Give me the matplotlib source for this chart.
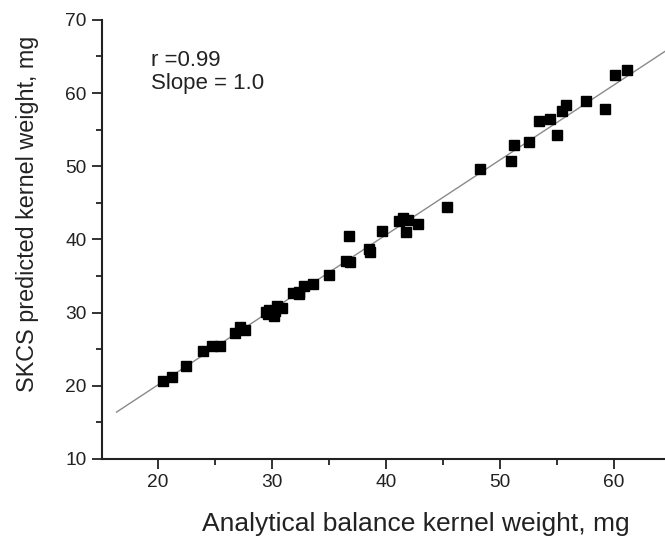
import matplotlib
matplotlib.use("Agg")
import matplotlib.pyplot as plt
from matplotlib.ticker import MultipleLocator

plt.rcParams['font.family'] = ['Liberation Sans', 'DejaVu Sans']

# analytical balance weight (x) vs SKCS predicted weight (y), mg
balance_mg = [20.5, 21.25, 22.5, 24.0, 24.8, 25.5, 26.8, 27.25, 27.7,
              29.5, 29.8, 30.0, 30.2, 30.5, 30.9, 29.7, 30.3,
              31.9, 32.4, 32.4, 32.8, 33.6, 35.0, 36.55, 36.9, 36.8,
              38.5, 38.65, 39.65, 41.2, 41.5, 42.0, 42.8, 41.75,
              45.4, 48.3, 50.96, 51.3, 52.6, 53.45, 54.45, 55.0,
              55.5, 55.8, 57.6, 59.2, 60.1, 61.2]
skcs_mg = [20.7, 21.2, 22.7, 24.8, 25.4, 25.5, 27.2, 28.0, 27.6,
           30.1, 30.4, 29.9, 29.6, 30.9, 30.6, 29.8, 30.2,
           32.7, 32.8, 32.5, 33.7, 33.9, 35.1, 37.0, 36.9, 40.4,
           38.7, 38.3, 41.1, 42.5, 42.9, 42.7, 42.1, 41.0,
           44.4, 49.6, 50.7, 52.9, 53.3, 56.2, 56.5, 54.3,
           57.6, 58.4, 58.9, 57.85, 62.5, 63.1]

# regression line ends
fit_x = [16.4, 64.5]
fit_y = [16.4, 65.7]

fig = plt.figure(figsize=(6.65, 5.38), dpi=100)
ax = fig.add_axes([0.153, 0.147, 0.847, 0.816])

ax.plot(fit_x, fit_y, color='#8a8a8a', lw=1.0, zorder=1)
ax.plot(balance_mg, skcs_mg, 's', color='black', ms=6.5, zorder=2)

ax.set_xlim(15.1, 64.5)
ax.set_ylim(10, 70)
ax.xaxis.set_major_locator(MultipleLocator(10))
ax.xaxis.set_minor_locator(MultipleLocator(5))
ax.yaxis.set_major_locator(MultipleLocator(10))
ax.yaxis.set_minor_locator(MultipleLocator(5))

for side in ('top', 'right'):
    ax.spines[side].set_visible(False)
for side in ('left', 'bottom'):
    ax.spines[side].set_linewidth(1.5)
    ax.spines[side].set_color('#222222')

ax.tick_params(which='major', direction='out', length=7, width=1.3,
               labelsize=13.8, colors='#222222', pad=4)
ax.tick_params(which='minor', direction='out', length=4, width=1.3,
               colors='#222222')

ax.set_xlabel('Analytical balance kernel weight, mg', fontsize=19,
              color='#222222')
ax.set_ylabel('SKCS predicted kernel weight, mg', fontsize=16.8,
              color='#222222')
ax.xaxis.set_label_coords(0.557, -0.12)
ax.yaxis.set_label_coords(-0.112, 0.558)

ax.text(0.087, 0.932, 'r =0.99\nSlope = 1.0', transform=ax.transAxes,
        fontsize=16, color='#222222', va='top', ha='left', linespacing=1.12)

fig.savefig('out.png', dpi=100)
